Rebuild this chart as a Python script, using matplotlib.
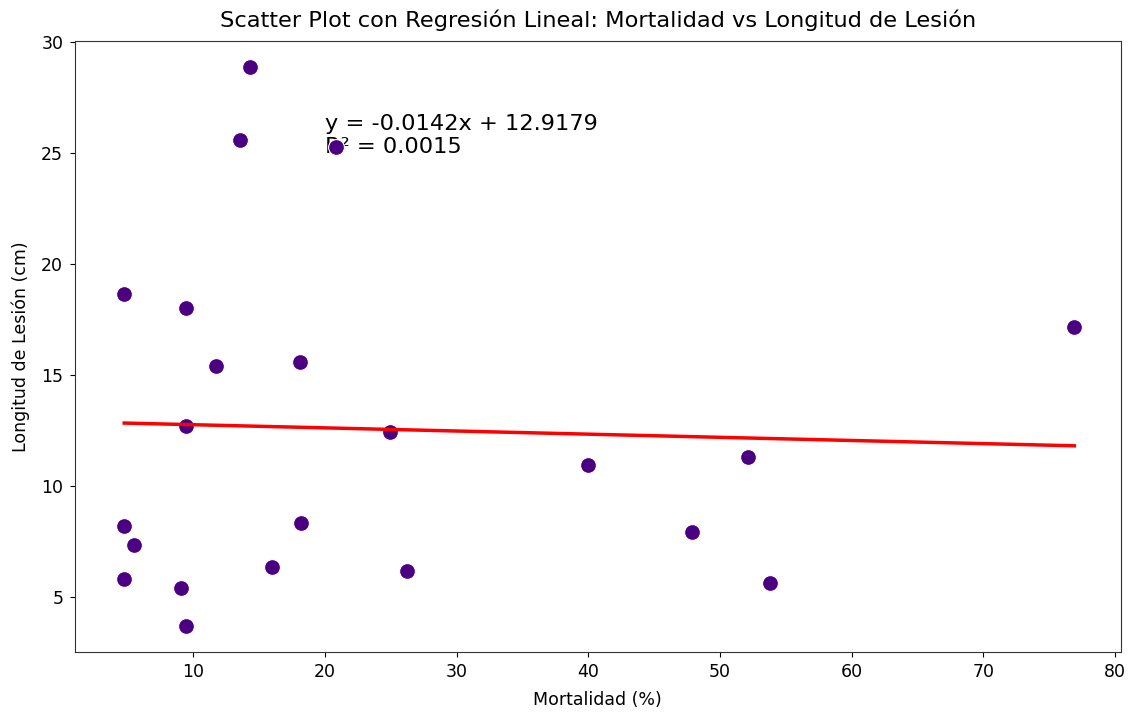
import matplotlib
matplotlib.use("Agg")
import matplotlib.pyplot as plt

# Mortality (%) vs lesion length (cm)
mortalidad = [14.3, 13.55, 20.84, 4.76, 9.45, 11.73, 18.11, 76.91, 9.45, 24.94, 39.98,
              52.11, 4.76, 18.16, 5.48, 47.85, 4.76, 9.05, 16.0, 26.26, 53.82, 9.45]
longitud = [28.87, 25.58, 25.28, 18.65, 18.04, 15.40, 15.60, 17.18, 12.72, 12.46, 10.97,
            11.33, 8.21, 8.36, 7.37, 7.94, 5.83, 5.41, 6.35, 6.18, 5.65, 3.72]

# Linear fit results
pendiente = -0.0142
intercepto = 12.9179
r2 = 0.0015

fig = plt.figure(figsize=(11.33, 7.13), dpi=100)
ax = fig.add_axes([75 / 1133, 1 - 651.5 / 713, (1120.7 - 75) / 1133, (651.5 - 41) / 713])

ax.scatter(mortalidad, longitud, s=130, color="indigo", edgecolors="white", linewidths=0.8, zorder=2)

x_min, x_max = min(mortalidad), max(mortalidad)
ax.plot([x_min, x_max], [pendiente * x_min + intercepto, pendiente * x_max + intercepto],
        color="red", linewidth=2.5, zorder=3)

ax.text(20, 25, f"y = {pendiente:.4f}x + {intercepto:.4f}\nR² = {r2:.4f}", fontsize=16.2, zorder=1)

ax.set_xlim(1.02, 80.43)
ax.set_ylim(2.56, 30.06)
ax.set_title("Scatter Plot con Regresión Lineal: Mortalidad vs Longitud de Lesión", fontsize=16.2, pad=10)
ax.set_xlabel("Mortalidad (%)", fontsize=12.5, labelpad=7)
ax.set_ylabel("Longitud de Lesión (cm)", fontsize=12.5, labelpad=8)
ax.tick_params(labelsize=12.5, pad=5)
for s in ax.spines.values():
    s.set_color("#333333")

fig.savefig("out.png", dpi=100)
